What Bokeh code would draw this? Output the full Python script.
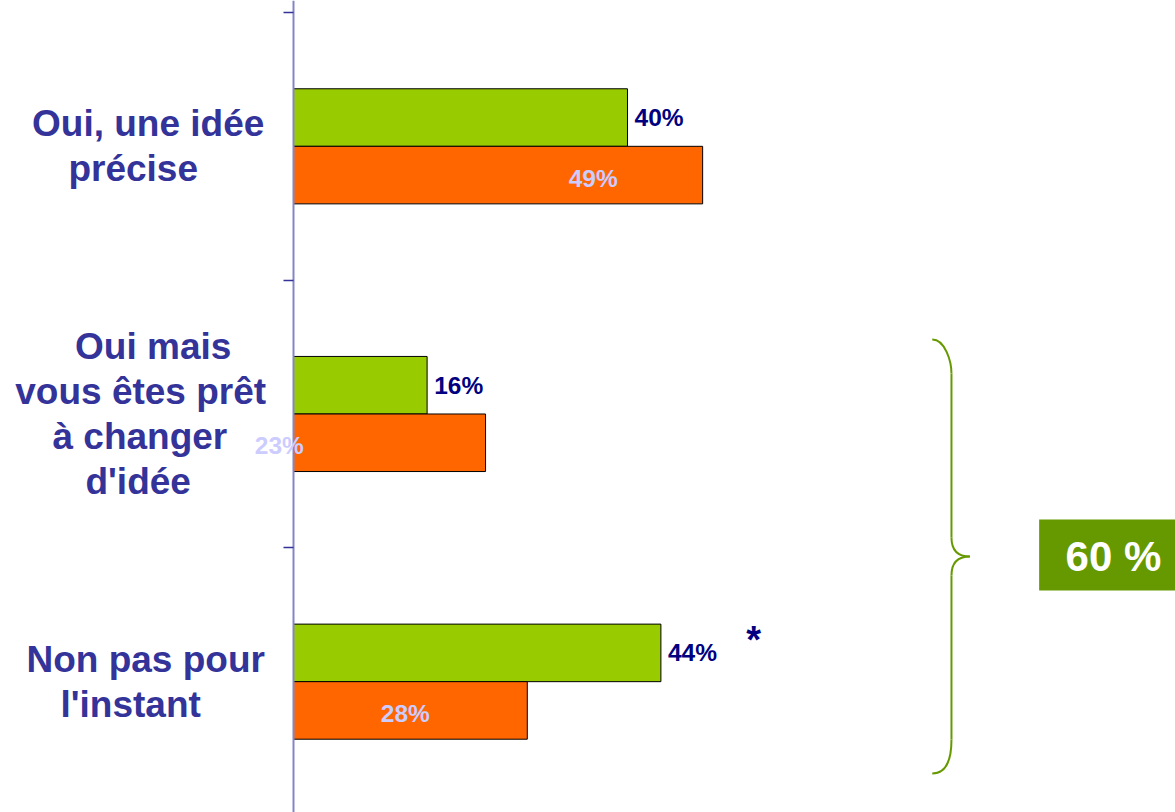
from bokeh.plotting import figure
from bokeh.models import (Range1d, FixedTicker, ColumnDataSource, LabelSet, Label,
                          BoxAnnotation)
from bokeh.core.properties import value
from bokeh.embed import file_html
from bokeh.resources import INLINE

# ---------------- data ----------------
categories = [
    "Oui, une idée\nprécise",
    "Oui mais\nvous êtes prêt\nà changer\nd'idée",
    "Non pas pour\nl'instant",
]
green_values = [40, 16, 44]
orange_values = [49, 23, 28]
green_labels = ["40%", "16%", "44%"]
orange_labels = ["49%", "23%", "28%"]
orange_label_x = [35.9, -1.7, 13.4]   # where the light labels sit on the value axis
bracket_categories = [1, 2]            # categories grouped by the brace
significance_mark = "*"

# horizontal centre of each line of the category texts (value-axis units)
line_centers = [[-17.4, -19.2], [-16.8, -18.3, -18.4, -18.6], [-17.7, -19.5]]

FONT = "Liberation Sans"
GREEN = "#99CC00"
ORANGE = "#FF6600"
NAVY = "#000080"
LABEL_BLUE = "#333399"
LIGHT = "#CCCCFF"
DARK_GREEN = "#669900"

n = len(categories)
centers = [n - i - 0.5 for i in range(n)]
half = 0.1075
bar_h = 0.215

p = figure(width=1175, height=812, output_backend="svg", toolbar_location=None,
           x_range=Range1d(-35.09, 105.63), y_range=Range1d(0.0112, 3.0448),
           min_border_left=0, min_border_right=0, min_border_top=0,
           min_border_bottom=0)
p.outline_line_color = None
p.xgrid.visible = False
p.ygrid.visible = False
p.xaxis.visible = False
p.background_fill_color = "white"
p.border_fill_color = "white"

ya = p.yaxis[0]
ya.fixed_location = 0
ya.ticker = FixedTicker(ticks=[1, 2, 3])
ya.major_label_overrides = {1: "", 2: "", 3: ""}
ya.major_label_text_font_size = "1px"
ya.minor_tick_line_color = None
ya.major_tick_in = 0
ya.major_tick_out = 10
ya.major_tick_line_color = LABEL_BLUE
ya.major_tick_line_width = 1.5
ya.axis_line_color = "#8585C6"
ya.axis_line_width = 2

# bars
src = ColumnDataSource(dict(
    gy=[c + half for c in centers], oy=[c - half for c in centers],
    g=green_values, o=orange_values,
    gl=green_labels, ol=orange_labels,
    glx=[v + 0.85 for v in green_values], olx=orange_label_x,
    gly=[c + half for c in centers], oly=[c - half - 0.011 for c in centers],
))
p.hbar(y="gy", left=0, right="g", height=bar_h, source=src,
       fill_color=GREEN, line_color="black", line_width=1)
p.hbar(y="oy", left=0, right="o", height=bar_h, source=src,
       fill_color=ORANGE, line_color="black", line_width=1)

p.add_layout(LabelSet(x="glx", y="gly", text="gl", source=src,
                      text_font=value(FONT), text_font_style="bold",
                      text_font_size="24.5px", text_color=NAVY,
                      text_align="left", text_baseline="middle"))
p.add_layout(LabelSet(x="olx", y="oly", text="ol", source=src,
                      text_font=value(FONT), text_font_style="bold",
                      text_font_size="24.5px", text_color=LIGHT,
                      text_align="center", text_baseline="middle"))

# category labels (multi-line, centered)
line_step = 0.168
for c, cat, xs in zip(centers, categories, line_centers):
    lines = cat.split("\n")
    k = len(lines)
    for j, ln in enumerate(lines):
        yy = c + (k - 1) / 2 * line_step - j * line_step
        p.add_layout(Label(x=xs[j], y=yy, text=ln, text_font=FONT,
                           text_font_style="bold", text_font_size="37px",
                           text_color=LABEL_BLUE, text_align="center",
                           text_baseline="middle"))

# significance mark
p.add_layout(Label(x=55.1, y=0.654, text=significance_mark, text_font=FONT,
                   text_font_style="bold", text_font_size="38px",
                   text_color=NAVY, text_align="center",
                   text_baseline="alphabetic"))

# brace grouping categories
top = (n - bracket_categories[0]) - 0.222
bot = (n - bracket_categories[-1] - 1) + 0.157
mid = (top + bot) / 2
xe, xl, xt = 76.5, 78.8, 81.0
r = 0.127
rt = 0.071
p.bezier(x0=[xe, xl, xt, xl], y0=[top, mid + rt, mid, bot + r],
         x1=[xl, xt, xl, xe], y1=[top - r, mid, mid - rt, bot],
         cx0=[xe + 1.55, xl, xl + 0.85, xl], cy0=[top, mid + rt * 0.25, mid, bot + r * 0.35],
         cx1=[xl, xl + 0.85, xl, xe + 1.55], cy1=[top - r * 0.65, mid, mid - rt * 0.25, bot],
         line_color=DARK_GREEN, line_width=2)
p.segment(x0=[xl, xl], y0=[top - r, mid - rt], x1=[xl, xl], y1=[mid + rt, bot + r],
          line_color=DARK_GREEN, line_width=2)

total = sum(green_values[i] for i in bracket_categories)
p.add_layout(BoxAnnotation(left=89.3, right=106, top=mid + 0.1385, bottom=mid - 0.1265,
                           fill_color=DARK_GREEN, fill_alpha=1, line_color=None))
p.add_layout(Label(x=98.2, y=mid, text=f"{total} %", text_font=FONT,
                   text_font_style="bold", text_font_size="42px",
                   text_color="white", text_align="center",
                   text_baseline="middle"))

open("out.html", "w").write(file_html(p, INLINE))
